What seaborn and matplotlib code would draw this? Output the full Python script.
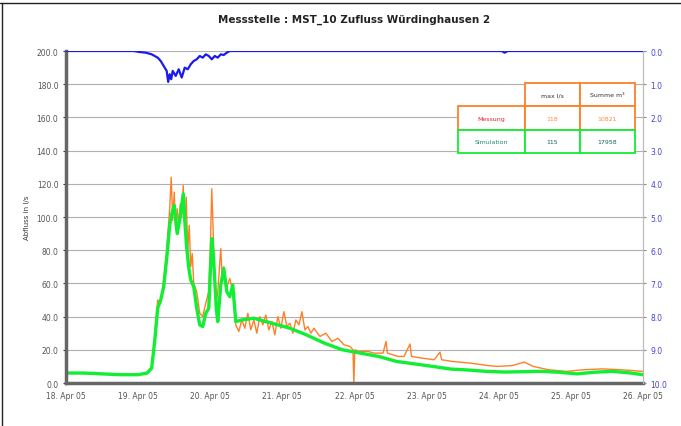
# Messstelle MST_10 - Abfluss (Messung / Simulation) und Niederschlag

import pandas as pd
import seaborn as sns
import matplotlib.pyplot as plt
import matplotlib.dates as mdates
from matplotlib.patches import Rectangle
from matplotlib.lines import Line2D

start = pd.Timestamp('2005-04-18 00:00')

# Simulation (green), hours since start / l/s
sim_hours = [0, 6, 12, 18, 24, 27, 28.5, 29.5, 30.5, 31.5, 32.5, 33.5, 34.5, 35.2, 36, 37, 38, 39, 40,
             40.8, 41.5, 42.5, 43.5, 44.5, 45.5, 46.5, 47.5, 48.5, 49.1, 50, 50.5, 51.5, 52.5, 53.5,
             54.5, 55.5, 56.5, 58.5, 62.5, 68.5, 74.5, 80, 86, 92, 98, 104, 110, 116, 122, 128, 134,
             140, 146, 152, 158, 164, 170, 176, 182, 188, 192]
sim_flow = [6, 6, 5.5, 5, 5, 6, 9, 25, 45, 50, 58, 75, 95, 102, 107, 90, 100, 114, 85,
            70, 62, 58, 45, 35, 34, 42, 45, 87, 75, 45, 37, 59, 69, 55,
            52, 59, 37, 38, 39, 36, 33, 29, 24, 20, 18, 16, 13, 11.5, 10, 8.4, 7.8,
            7, 6.6, 6.8, 7, 6.5, 5.5, 6.5, 7, 6, 5]

# Messung (orange)
mess_hours = [0, 12, 24, 27, 28.5, 29.5, 30.5, 31.5, 32.5, 33.5, 34.5, 35, 35.5, 36, 36.5, 37, 37.5,
              38, 38.5, 39, 39.5, 40, 40.5, 41, 41.5, 42, 42.5, 43.5, 44.5, 45.5, 46.5, 47.5, 48,
              48.5, 49, 49.5, 50, 50.5, 51.5, 52, 52.5, 53.5, 54.5, 55.5, 56, 56.5, 57.5, 58.5, 59.5,
              60.5, 61.5, 62.5, 63.5, 64.5, 65.5, 66.5, 67.5, 68.5, 69.5, 70.5, 71.5, 72.5, 73.5,
              74.5, 75.5, 76.5, 77.5, 78.5, 79.5, 80.5, 81.5, 82.5, 84.5, 86.5, 88.5, 90.5, 92.5,
              94.5, 95.5, 95.8, 96.1, 97.5, 100.5, 102.5, 105.5, 106.5, 107, 110.5, 112.5, 114.5,
              115, 118.5, 122.5, 124.5, 125, 128.5, 134.5, 140.5, 143.5, 148.5, 152.5, 155.5,
              160.5, 166.5, 172.5, 178.5, 184.5, 188.5, 192]
mess_flow = [6, 5.5, 5, 6, 10, 28, 50, 48, 62, 80, 105, 124, 98, 115, 92, 105, 95,
             108, 100, 119, 90, 112, 80, 95, 70, 78, 60, 55, 42, 40, 48, 55, 80,
             117, 90, 60, 48, 55, 81, 62, 70, 58, 63, 55, 45, 35, 31, 38, 33,
             42, 32, 38, 30, 40, 35, 41, 32, 37, 29, 40, 33, 43, 34,
             36, 30, 38, 35, 43, 32, 34, 30, 33, 28, 30, 25, 27, 23,
             22, 20, 0, 20, 19, 19, 18, 18, 25, 18, 16, 16, 23.5,
             16, 15, 14, 18.6, 14, 13, 12, 10.5, 10, 10.5, 12.6, 10,
             8, 7, 8, 8.5, 8, 7.5, 7]

# Niederschlag (blue, right axis inverted)
rain_hours = [0, 22.5, 24.5, 26.5, 28.5, 30.5, 31.5, 32.5, 33.5, 34, 34.5, 35, 35.5, 36.5, 37.5,
              38.5, 39.5, 40.5, 41.5, 42.5, 43.5, 44.5, 45.5, 46.5, 47.5, 48.5, 49.5, 50.5, 51.5,
              52.5, 53.5, 54.5, 145, 146, 147, 192]
rain_mm = [0, 0, 0.03, 0.05, 0.1, 0.2, 0.3, 0.45, 0.6, 0.93, 0.7, 0.85, 0.6, 0.75, 0.55,
           0.8, 0.5, 0.55, 0.4, 0.3, 0.25, 0.15, 0.2, 0.1, 0.15, 0.25, 0.15, 0.2, 0.1,
           0.12, 0.05, 0, 0, 0.05, 0, 0]

table_cols = ['max l/s', 'Summe m³']
table_rows = ['Messung', 'Simulation']
table_vals = [['118', '10821'], ['115', '17958']]

sim = pd.DataFrame({'t': start + pd.to_timedelta(sim_hours, unit='h'), 'q': sim_flow})
mess = pd.DataFrame({'t': start + pd.to_timedelta(mess_hours, unit='h'), 'q': mess_flow})
rain = pd.DataFrame({'t': start + pd.to_timedelta(rain_hours, unit='h'), 'n': rain_mm})

sns.set_style('white')
plt.rcParams['font.family'] = ['DejaVu Sans']

fig = plt.figure(figsize=(6.81, 4.27), dpi=100)
ax = fig.add_axes([0.097, 0.1007, 0.847, 0.7775])

sns.lineplot(data=mess, x='t', y='q', ax=ax, color='#ff7f27', lw=1.0)
sns.lineplot(data=sim, x='t', y='q', ax=ax, color='#11ee33', lw=2.4)

ax.set_xlim(start, start + pd.Timedelta(days=8))
ax.set_ylim(0, 200)
ax.set_yticks(range(0, 201, 20))
ax.set_yticklabels([f'{v:.1f}' for v in range(0, 201, 20)], fontsize=5.5, color='#555555')
ax.yaxis.grid(True, color='#b0b0b0', lw=0.8)
ax.xaxis.set_major_locator(mdates.DayLocator())
ax.xaxis.set_major_formatter(mdates.DateFormatter('%d. %b %y'))
ax.tick_params(axis='x', labelsize=5.5, labelcolor='#555555', length=2, color='#333333')
ax.tick_params(axis='y', length=2, color='#333333')
ax.set_xlabel('')
ax.set_ylabel('Abfluss in l/s', fontsize=5, color='#333333', labelpad=5)
for s in ['left', 'bottom']:
    ax.spines[s].set_color('#666666')
    ax.spines[s].set_linewidth(2.5)
ax.spines['right'].set_color('#bbbbbb')
ax.spines['top'].set_visible(False)

ax2 = ax.twinx()
sns.lineplot(data=rain, x='t', y='n', ax=ax2, color='#1a1aee', lw=1.6)
ax2.set_ylim(10, 0)
ax2.set_yticks(range(0, 11))
ax2.set_yticklabels([f'{v:.1f}' for v in range(0, 11)], fontsize=5.5, color='#4444cc')
ax2.tick_params(axis='y', length=2, color='#888888')
ax2.set_ylabel('')
ax2.set_xlabel('')
for s in ['left', 'bottom', 'top']:
    ax2.spines[s].set_visible(False)
ax2.spines['right'].set_color('#bbbbbb')

ax.set_title('Messstelle : MST_10 Zufluss Würdinghausen 2', fontsize=7.5,
             fontweight='bold', color='#222222', pad=21)

# summary table in axes coordinates
x0, y0 = 0.679, 0.693
cw = [0.116, 0.096, 0.095]
rh = 0.070
border = ['#ff7f27', '#ff7f27', '#11ee33']
txtc = [['#333333'] * 3, ['#ee2222', '#ff8c40', '#ff8c40'], ['#228877', '#116655', '#116655']]
cells = [[''] + table_cols, [table_rows[0]] + table_vals[0], [table_rows[1]] + table_vals[1]]
for r in range(3):
    yb = y0 + (2 - r) * rh
    xl = x0
    for c in range(3):
        if not (r == 0 and c == 0):
            ax2.add_patch(Rectangle((xl, yb), cw[c], rh, transform=ax2.transAxes, fill=True,
                                    facecolor='white', edgecolor=border[r], lw=1.3, zorder=5))
            ax2.text(xl + cw[c] / 2, yb + rh / 2, cells[r][c], transform=ax2.transAxes,
                     ha='center', va='center', fontsize=4.5, color=txtc[r][c], zorder=6)
        xl += cw[c]

fig.add_artist(Line2D([0, 1], [0.99, 0.99], color='#222222', lw=1.0))
fig.add_artist(Line2D([0.003, 0.003], [0, 0.99], color='#222222', lw=1.0))

fig.savefig('out.png', dpi=100)
